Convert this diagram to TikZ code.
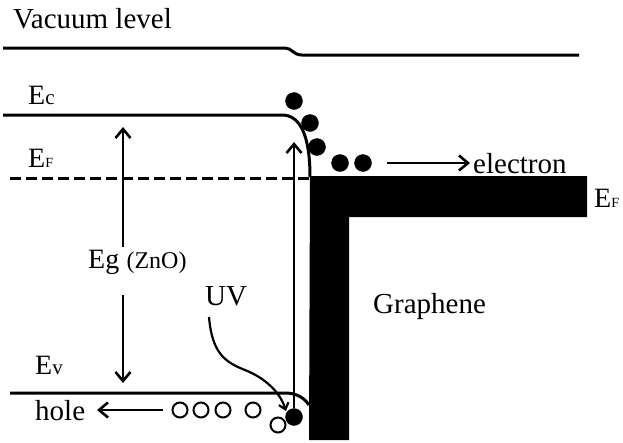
\documentclass[tikz,border=0pt]{standalone}
\usepackage{fontspec}
\setmainfont{Liberation Serif}
\usepackage{pgf, tikz}
\usetikzlibrary{arrows.meta}
\pgfdeclarelayer{edgelayer}
\pgfdeclarelayer{nodelayer}
\pgfsetlayers{edgelayer,nodelayer,main}
\tikzstyle{edge}=[draw=black, line width=3pt]
\tikzstyle{arrow}=[draw=black, line width=2.6pt, -{Straight Barb[length=9pt,width=15pt]}]
\tikzstyle{electron}=[circle, fill=black, draw=black, minimum size=17pt, inner sep=0pt]
\tikzstyle{hole}=[circle, fill=white, draw=black, line width=2pt, minimum size=15pt, inner sep=0pt]
\tikzstyle{txt}=[inner sep=0pt, anchor=base west, font=\fontsize{29}{30}\selectfont]

\begin{document}
\begin{tikzpicture}[x=1pt, y=-1pt]
			\useasboundingbox (0, 0) rectangle (623, 442);
			\begin{pgfonlayer}{nodelayer}
			\node [style=txt] (0) at (13, 28) {Vacuum level};
			\node [style=txt] (1) at (28, 104) {{\fontsize{28}{28}\selectfont E}{\fontsize{21}{21}\selectfont c}};
			\node [style=txt] (2) at (28, 167) {{\fontsize{28}{28}\selectfont E}{\fontsize{14}{14}\selectfont F}};
			\node [style=txt] (3) at (35, 374) {{\fontsize{28}{28}\selectfont E}{\fontsize{21}{21}\selectfont v}};
			\node [style=txt] (4) at (594, 207) {{\fontsize{28}{28}\selectfont E}{\fontsize{14}{14}\selectfont F}};
			\node [style=txt] (5) at (88, 268) {{\fontsize{28}{28}\selectfont Eg} {\fontsize{24}{24}\selectfont (ZnO)}};
			\node [style=txt] (6) at (205, 305) {UV};
			\node [style=txt] (7) at (373, 313) {Graphene};
			\node [style=txt] (8) at (473, 173) {electron};
			\node [style=txt] (9) at (35, 420) {hole};
			\node [style=electron] (10) at (294, 101) {};
			\node [style=electron] (11) at (310, 123) {};
			\node [style=electron] (12) at (317, 147) {};
			\node [style=electron] (13) at (340, 163) {};
			\node [style=electron] (14) at (363, 163) {};
			\node [style=electron] (15) at (294, 417) {};
			\node [style=hole] (16) at (180, 410) {};
			\node [style=hole] (17) at (201, 410) {};
			\node [style=hole] (18) at (223, 410) {};
			\node [style=hole] (19) at (253, 410) {};
			\node [style=hole] (20) at (278, 425) {};
			\coordinate (21) at (123, 247);
			\coordinate (22) at (123, 127);
			\coordinate (23) at (123, 295);
			\coordinate (24) at (123, 383);
			\coordinate (25) at (294, 142);
			\coordinate (26) at (387, 163);
			\coordinate (27) at (470, 163);
			\coordinate (28) at (163, 410);
			\coordinate (29) at (97, 410);
			\coordinate (30) at (209, 317);
			\coordinate (31) at (286, 411);
			\end{pgfonlayer}
			\begin{pgfonlayer}{edgelayer}
			% bands
			\draw [style=edge] (3, 48) -- (285, 48) .. controls (292, 48) and (293, 55) .. (302, 55) -- (579, 55);
			\draw [style=edge] (3, 115) -- (282, 115) .. controls (300, 115) and (310, 135) .. (310, 177);
			\draw [style=edge, dash pattern=on 11pt off 5pt] (10, 178) -- (310, 178);
			\draw [style=edge] (10, 393) -- (285, 393) .. controls (298, 393) and (305, 399) .. (309, 405);
			% arrows
			\draw [style=arrow] (21) to (22);
			\draw [style=arrow] (23) to (24);
			\draw [style=arrow] (15.north) to (25);
			\draw [style=arrow] (26) to (27);
			\draw [style=arrow] (28) to (29);
			\draw [style=arrow, line width=2.2pt, -{Straight Barb[length=6pt,width=10pt]}] (30) .. controls (212, 352) and (224, 362) .. (245, 370) .. controls (265, 378) and (280, 392) .. (31);
			\end{pgfonlayer}
			% graphene
			\fill [black] (310, 176) -- (587, 176) -- (587, 217) -- (349, 217) -- (349, 440) -- (309, 440) -- cycle;
			\end{tikzpicture}
\end{document}
